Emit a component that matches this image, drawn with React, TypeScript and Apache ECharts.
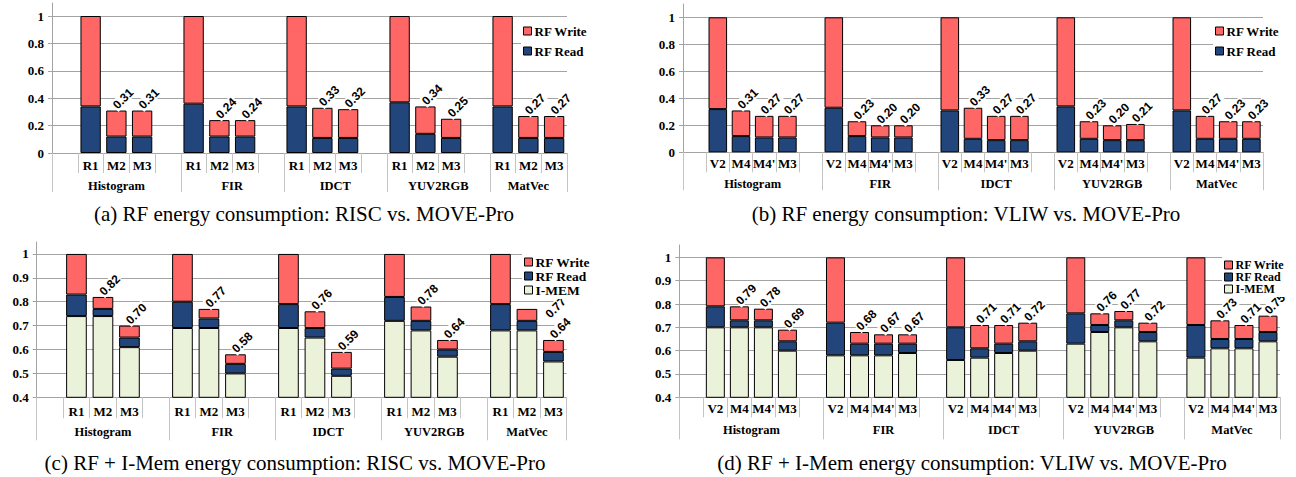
import React, { useEffect, useRef } from 'react';
import * as echarts from 'echarts';

// ---------- data ----------
const groups = ['Histogram', 'FIR', 'IDCT', 'YUV2RGB', 'MatVec'];
const riscConfigs = ['R1', 'M2', 'M3'];
const vliwConfigs = ['V2', 'M4', "M4'", 'M3'];

// (a) RF energy, RISC vs MOVE-Pro  (per group: R1, M2, M3)
const aRead = [0.34, 0.12, 0.12, 0.36, 0.12, 0.12, 0.34, 0.11, 0.11, 0.37, 0.14, 0.11, 0.34, 0.11, 0.11];
const aWrite = [0.66, 0.19, 0.19, 0.64, 0.12, 0.12, 0.66, 0.22, 0.21, 0.63, 0.2, 0.14, 0.66, 0.16, 0.16];

// (b) RF energy, VLIW vs MOVE-Pro  (per group: V2, M4, M4', M3)
const bRead = [0.32, 0.12, 0.11, 0.11, 0.33, 0.12, 0.11, 0.11, 0.31, 0.1, 0.09, 0.09, 0.34, 0.1, 0.09, 0.09, 0.31, 0.1, 0.1, 0.1];
const bWrite = [0.68, 0.19, 0.16, 0.16, 0.67, 0.11, 0.09, 0.09, 0.69, 0.23, 0.18, 0.18, 0.66, 0.13, 0.11, 0.12, 0.69, 0.17, 0.13, 0.13];

// (c) RF + I-Mem, RISC vs MOVE-Pro
const cImem = [0.74, 0.74, 0.61, 0.69, 0.69, 0.5, 0.69, 0.65, 0.49, 0.72, 0.68, 0.57, 0.68, 0.68, 0.55];
const cRead = [0.09, 0.03, 0.04, 0.11, 0.04, 0.04, 0.1, 0.04, 0.03, 0.1, 0.04, 0.03, 0.11, 0.04, 0.04];
const cWrite = [0.17, 0.05, 0.05, 0.2, 0.04, 0.04, 0.21, 0.07, 0.07, 0.18, 0.06, 0.04, 0.21, 0.05, 0.05];

// (d) RF + I-Mem, VLIW vs MOVE-Pro
const dImem = [0.7, 0.7, 0.7, 0.6, 0.58, 0.58, 0.58, 0.59, 0.56, 0.57, 0.59, 0.6, 0.63, 0.68, 0.7, 0.64, 0.57, 0.61, 0.61, 0.64];
const dRead = [0.09, 0.03, 0.03, 0.04, 0.14, 0.05, 0.05, 0.04, 0.14, 0.04, 0.04, 0.04, 0.13, 0.03, 0.03, 0.04, 0.14, 0.04, 0.04, 0.04];
const dWrite = [0.21, 0.06, 0.05, 0.05, 0.28, 0.05, 0.04, 0.04, 0.3, 0.1, 0.08, 0.08, 0.24, 0.05, 0.04, 0.04, 0.29, 0.08, 0.06, 0.07];

const captions = [
  '(a) RF energy consumption: RISC vs. MOVE-Pro',
  '(b) RF energy consumption: VLIW vs. MOVE-Pro',
  '(c) RF + I-Mem energy consumption: RISC vs. MOVE-Pro',
  '(d) RF + I-Mem energy consumption: VLIW vs. MOVE-Pro',
];

// ---------- styles ----------
const GRID_COLOR = '#a3a3a3';
const TICK_COLOR = '#c4c4c4';
const WRITE_COLOR = '#ff6666';
const READ_COLOR = '#22467c';
const IMEM_COLOR = '#ebf2da';
const SERIF = '"Liberation Serif", "Times New Roman", serif';
const SANS = '"Liberation Sans", Arial, sans-serif';

type Panel = {
  configs: string[];
  segs: [string, number[], string][];
  grid: { left: number; top: number; width: number; height: number };
  yMin: number; yMax: number; yInterval: number;
  catMargin: number; groupMargin: number; shortTick: number; longTick: number;
  legend: { left: number; top: number; fontSize: number; lineHeight: number; itemGap: number };
  caption: string; captionCenter: number; captionTop: number;
  barWidth: string;
  labelOffsets?: Record<number, [number, number]>;
};

const panels: Panel[] = [
  {
    configs: riscConfigs,
    segs: [['RF Read', aRead, READ_COLOR], ['RF Write', aWrite, WRITE_COLOR]],
    grid: { left: 52, top: 3, width: 515, height: 150 },
    yMin: 0, yMax: 1.095, yInterval: 0.2,
    catMargin: 6, groupMargin: 26, shortTick: 20, longTick: 39,
    legend: { left: 521, top: 22, fontSize: 13, lineHeight: 14, itemGap: 6 },
    caption: captions[0], captionCenter: 304, captionTop: 203,
    barWidth: '79%',
  },
  {
    configs: vliwConfigs,
    segs: [['RF Read', bRead, READ_COLOR], ['RF Write', bWrite, WRITE_COLOR]],
    grid: { left: 683, top: 4, width: 580, height: 148.3 },
    yMin: 0, yMax: 1.0985, yInterval: 0.2,
    catMargin: 5, groupMargin: 25, shortTick: 20, longTick: 38,
    legend: { left: 1213, top: 22, fontSize: 13, lineHeight: 14, itemGap: 6 },
    caption: captions[1], captionCenter: 966, captionTop: 203,
    barWidth: '80%',
  },
  {
    configs: riscConfigs,
    segs: [['I-MEM', cImem, IMEM_COLOR], ['RF Read', cRead, READ_COLOR], ['RF Write', cWrite, WRITE_COLOR]],
    grid: { left: 36.7, top: 242, width: 530, height: 155.3 },
    yMin: 0.4, yMax: 1.05, yInterval: 0.1,
    catMargin: 8, groupMargin: 28, shortTick: 21, longTick: 43,
    legend: { left: 522, top: 253, fontSize: 13.5, lineHeight: 13.5, itemGap: 0 },
    caption: captions[2], captionCenter: 295, captionTop: 452,
    barWidth: '78%',
    labelOffsets: { 13: [5, 23] },
  },
  {
    configs: vliwConfigs,
    segs: [['I-MEM', dImem, IMEM_COLOR], ['RF Read', dRead, READ_COLOR], ['RF Write', dWrite, WRITE_COLOR]],
    grid: { left: 679.3, top: 245, width: 600.7, height: 152.3 },
    yMin: 0.4, yMax: 1.053, yInterval: 0.1,
    catMargin: 5, groupMargin: 26, shortTick: 20, longTick: 42,
    legend: { left: 1222, top: 257, fontSize: 12, lineHeight: 12, itemGap: 0 },
    caption: captions[3], captionCenter: 972, captionTop: 452,
    barWidth: '79%',
  },
];

function buildSlots(configs: string[]) {
  const slots: (number | null)[] = [null];
  const labels: string[] = [''];
  const bounds: number[] = [0];
  let bar = 0;
  groups.forEach((_, gi) => {
    configs.forEach((c) => {
      slots.push(bar++);
      labels.push(c);
    });
    if (gi < groups.length - 1) {
      slots.push(null);
      labels.push('');
    }
    bounds.push(slots.length);
  });
  return { slots, labels, bounds };
}

function buildOption() {
  const grid: any[] = [];
  const xAxis: any[] = [];
  const yAxis: any[] = [];
  const series: any[] = [];
  const legend: any[] = [];
  const title: any[] = [];

  panels.forEach((p, k) => {
    const { slots, labels, bounds } = buildSlots(p.configs);
    const centers = bounds.slice(0, -1).map((b, i) => (b + bounds[i + 1]) / 2);
    grid.push({ ...p.grid, containLabel: false });

    xAxis.push({
      type: 'category',
      gridIndex: k,
      data: labels,
      position: 'bottom',
      axisLine: { show: true, lineStyle: { color: GRID_COLOR, width: 1 } },
      axisTick: { show: true, interval: 0, length: p.shortTick, lineStyle: { color: TICK_COLOR, width: 1 } },
      axisLabel: {
        interval: 0, margin: p.catMargin, color: '#000', fontFamily: SERIF,
        fontWeight: 'bold', fontSize: 13,
      },
      splitLine: { show: false },
    });
    xAxis.push({
      type: 'value',
      gridIndex: k,
      min: 0,
      max: slots.length,
      position: 'bottom',
      axisLine: { show: false },
      splitLine: { show: false },
      axisTick: { show: true, customValues: bounds, length: p.longTick, lineStyle: { color: TICK_COLOR, width: 1 } },
      axisLabel: {
        show: true,
        customValues: centers,
        margin: p.groupMargin,
        color: '#000', fontFamily: SERIF, fontWeight: 'bold', fontSize: 12.5,
        formatter: (v: number) => {
          const i = centers.findIndex((c) => Math.abs(c - v) < 1e-6);
          return i >= 0 ? groups[i] : '';
        },
      },
    });

    yAxis.push({
      type: 'value',
      gridIndex: k,
      min: p.yMin,
      max: p.yMax,
      interval: p.yInterval,
      axisLine: { show: true, lineStyle: { color: GRID_COLOR, width: 1 } },
      axisTick: { show: true, length: 4, lineStyle: { color: GRID_COLOR } },
      axisLabel: {
        showMaxLabel: false, margin: 8, color: '#000', fontFamily: SERIF,
        fontWeight: 'bold', fontSize: 13,
      },
      splitLine: { show: true, showMaxLine: false, lineStyle: { color: GRID_COLOR, width: 1 } },
    });

    const nCfg = p.configs.length;
    p.segs.forEach(([name, arr, color], si) => {
      const isTop = si === p.segs.length - 1;
      series.push({
        type: 'bar',
        name,
        xAxisIndex: 2 * k,
        yAxisIndex: k,
        stack: 'panel' + k,
        barWidth: p.barWidth,
        itemStyle: { color, borderColor: '#000', borderWidth: 1 },
        label: {
          show: false, position: 'top', rotate: 45, align: 'left', verticalAlign: 'middle',
          distance: 5, fontFamily: SANS, fontSize: 12, fontWeight: 'bold', color: '#000',
          backgroundColor: '#fff', padding: [0, 1],
        },
        emphasis: { disabled: true },
        data: slots.map((b) => {
          if (b === null) return null;
          const item: any = { value: arr[b] };
          if (isTop && b % nCfg !== 0) {
            const total = Math.round(p.segs.reduce((s, seg) => s + seg[1][b], 0) * 100) / 100;
            item.label = {
              show: true,
              formatter: total.toFixed(2),
              offset: (p.labelOffsets && p.labelOffsets[b]) || [-3, 0],
            };
          }
          return item;
        }),
      });
    });

    legend.push({
      orient: 'vertical',
      left: p.legend.left,
      top: p.legend.top,
      padding: 2,
      backgroundColor: '#fff',
      itemGap: p.legend.itemGap,
      itemWidth: 8,
      itemHeight: 8,
      icon: 'rect',
      selectedMode: false,
      itemStyle: { borderColor: '#000', borderWidth: 1 },
      textStyle: {
        fontFamily: SERIF, fontWeight: 'bold', fontSize: p.legend.fontSize,
        lineHeight: p.legend.lineHeight, color: '#000', padding: [0, 0, 0, -2],
      },
      data: p.segs.map((s) => s[0]).reverse(),
    });

    title.push({
      text: p.caption,
      left: p.captionCenter,
      top: p.captionTop,
      textAlign: 'center',
      padding: 0,
      textStyle: { fontFamily: SERIF, fontWeight: 'normal', fontSize: 21, color: '#000' },
    });
  });

  return { animation: false, backgroundColor: '#fff', grid, xAxis, yAxis, series, legend, title };
}

export default function App() {
  const ref = useRef<HTMLDivElement>(null);
  useEffect(() => {
    if (!ref.current) return;
    const chart = echarts.init(ref.current, undefined, { renderer: 'svg' });
    chart.setOption(buildOption() as any);
    return () => chart.dispose();
  }, []);
  return (
    <div
      ref={ref}
      style={{ position: 'fixed', left: 0, top: 0, width: 1296, height: 477, background: '#fff' }}
    />
  );
}
